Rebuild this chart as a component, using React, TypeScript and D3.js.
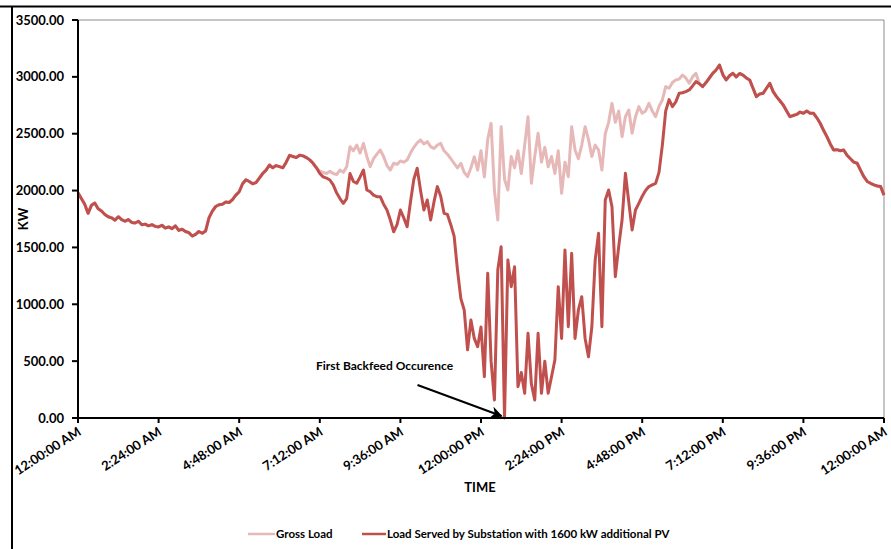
import React from 'react';
import * as d3 from 'd3';

const W = 891;
const H = 549;

const STEP_MIN = 6; // minutes between samples
const xTickLabels = [
  '12:00:00 AM', '2:24:00 AM', '4:48:00 AM', '7:12:00 AM', '9:36:00 AM', '12:00:00 PM',
  '2:24:00 PM', '4:48:00 PM', '7:12:00 PM', '9:36:00 PM', '12:00:00 AM',
];
const yTicks = [0, 500, 1000, 1500, 2000, 2500, 3000, 3500];
const seriesNames = ['Gross Load', 'Load Served by Substation with 1600 kW additional PV'];

const grossLoad = [
  1980, 1930, 1880, 1800, 1870, 1890, 1840, 1820, 1790, 1770,
  1760, 1740, 1770, 1745, 1730, 1745, 1720, 1715, 1730, 1700,
  1705, 1690, 1700, 1685, 1680, 1695, 1670, 1680, 1665, 1690,
  1650, 1660, 1640, 1630, 1600, 1615, 1640, 1625, 1645, 1760,
  1820, 1860, 1875, 1880, 1900, 1895, 1920, 1960, 1990, 2060,
  2095, 2080, 2060, 2070, 2110, 2150, 2180, 2225, 2200, 2220,
  2210, 2200, 2250, 2310, 2300, 2290, 2310, 2305, 2290, 2270,
  2240, 2200,
  2170, 2160, 2150, 2170, 2150, 2140, 2180, 2160,
  2210, 2386, 2350, 2400, 2330, 2415, 2300, 2210, 2280, 2320,
  2357, 2300, 2220, 2181, 2240, 2230, 2260, 2250, 2269, 2330,
  2380, 2420, 2445, 2410, 2430, 2386, 2370, 2400, 2415, 2350,
  2320, 2280, 2240, 2200, 2240, 2160, 2122, 2200, 2298, 2180,
  2350, 2120, 2450, 2591, 2000, 1741, 2562, 2100, 2005, 2300,
  2200, 2350, 2150, 2400, 2650, 2064, 2300, 2504, 2250, 2380,
  2210, 2300, 2150, 2350, 1976, 2250, 2122, 2562, 2357, 2280,
  2400, 2562, 2450, 2300, 2400, 2357, 2181, 2500, 2600, 2767,
  2600, 2700, 2474, 2650, 2709, 2504, 2650, 2738, 2680, 2700,
  2767, 2700, 2650, 2740, 2797, 2914, 2900, 2950, 2973, 2980,
  3016, 2990, 2944, 3000, 3031, 2940,
  2914, 2950, 2990, 3031,
  3060, 3104, 3020, 2973, 3010, 3031, 3000, 3030, 3016, 2990,
  2973, 2900, 2826, 2850, 2855, 2900, 2943, 2870, 2826, 2790,
  2753, 2700, 2650, 2660, 2670, 2690, 2680, 2700, 2680, 2680,
  2640, 2592, 2530, 2474, 2410, 2357, 2360, 2350, 2357, 2310,
  2280, 2250, 2240, 2180, 2122, 2080, 2064, 2050, 2040, 2035, 1960,
];

const servedLoad = [
  1980, 1930, 1880, 1800, 1870, 1890, 1840, 1820, 1790, 1770,
  1760, 1740, 1770, 1745, 1730, 1745, 1720, 1715, 1730, 1700,
  1705, 1690, 1700, 1685, 1680, 1695, 1670, 1680, 1665, 1690,
  1650, 1660, 1640, 1630, 1600, 1615, 1640, 1625, 1645, 1760,
  1820, 1860, 1875, 1880, 1900, 1895, 1920, 1960, 1990, 2060,
  2095, 2080, 2060, 2070, 2110, 2150, 2180, 2225, 2200, 2220,
  2210, 2200, 2250, 2310, 2300, 2290, 2310, 2305, 2290, 2270,
  2240, 2200,
  2150, 2120, 2110, 2093, 2050, 1980, 1930, 1888,
  1930, 2150, 2080, 2064, 2120, 2181, 2005, 1990, 1960, 1946,
  1946, 1880, 1829, 1741, 1638, 1700, 1829, 1760, 1682, 1900,
  2100, 2196, 2000, 1829, 1917, 1741, 1900, 2035, 1950, 1800,
  1790, 1700, 1600, 1300, 1050, 950, 600, 862, 700, 627,
  800, 363, 1272, 500, 158, 1301, 1506, 0, 1389, 1155,
  1330, 275, 400, 217, 745, 300, 158, 745, 217, 500,
  217, 363, 510, 1155, 700, 1477, 803, 1448, 700, 950,
  1067, 700, 539, 800, 1389, 1624, 803, 1917, 2005, 1858,
  1243, 1507, 1741, 2152, 1900, 1653, 1829, 1888, 1950, 2000,
  2035, 2050, 2064, 2160, 2400, 2700, 2800, 2738, 2780, 2855,
  2860, 2870, 2885, 2920, 2958, 2940, 2914, 2950, 2990, 3031,
  3060, 3104, 3020, 2973, 3010, 3031, 3000, 3030, 3016, 2990,
  2973, 2900, 2826, 2850, 2855, 2900, 2943, 2870, 2826, 2790,
  2753, 2700, 2650, 2660, 2670, 2690, 2680, 2700, 2680, 2680,
  2640, 2592, 2530, 2474, 2410, 2357, 2360, 2350, 2357, 2310,
  2280, 2250, 2240, 2180, 2122, 2080, 2064, 2050, 2040, 2035, 1960,
];

const annotationText = 'First Backfeed Occurence';
const backfeedMinute = 762; // ~12:42 PM

const FONT = 'Lato, "Open Sans", sans-serif';
const PINK = '#E6B9B8';
const RED = '#C0504D';

export default function App() {
  const left = 78, right = 884, top = 20, bottom = 418;
  const x = d3.scaleLinear().domain([0, 1440]).range([left, right]);
  const y = d3.scaleLinear().domain([0, 3500]).range([bottom, top]);
  const line = d3
    .line<number>()
    .x((_, i) => x(i * STEP_MIN))
    .y((d) => y(d));

  const xTicks = xTickLabels.map((lab, i) => ({ lab, m: i * 144 }));

  const arrowEnd = { x: x(backfeedMinute) - 3, y: y(0) - 2 };
  const arrowStart = { x: x(backfeedMinute) - 87, y: y(0) - 33 };

  return (
    <div style={{ position: 'fixed', left: 0, top: 0 }}>
      <svg width={W} height={H} style={{ display: 'block', background: '#fff' }} fontFamily={FONT}>
        <defs>
          <marker id="arr" viewBox="0 0 10 10" refX="9" refY="5" markerWidth="6" markerHeight="6" orient="auto">
            <path d="M0,0 L10,5 L0,10 L3,5 Z" fill="#000" />
          </marker>
        </defs>
        {/* outer frame */}
        <line x1={0} x2={W} y1={6.5} y2={6.5} stroke="#000" strokeWidth={2} />
        <line x1={12} x2={12} y1={6} y2={H} stroke="#000" strokeWidth={2} />

        {/* plot border */}
        <line x1={left} x2={right} y1={top} y2={top} stroke="#8c8c8c" strokeWidth={1} />
        <line x1={right} x2={right} y1={top} y2={bottom} stroke="#8c8c8c" strokeWidth={1} />

        {/* series */}
        <path d={line(grossLoad) || ''} fill="none" stroke={PINK} strokeWidth={3} strokeLinejoin="round" />
        <path d={line(servedLoad) || ''} fill="none" stroke={RED} strokeWidth={3} strokeLinejoin="round" />

        {/* y axis */}
        <line x1={left} x2={left} y1={top} y2={bottom} stroke="#000" strokeWidth={2} />
        {yTicks.map((t) => (
          <g key={t}>
            <line x1={left - 6} x2={left} y1={y(t)} y2={y(t)} stroke="#000" strokeWidth={2} />
            <text x={left - 14} y={y(t)} dy="0.35em" textAnchor="end" fontSize={13} fontWeight={700}>
              {d3.format('.2f')(t)}
            </text>
          </g>
        ))}
        <text transform={`translate(23,${(top + bottom) / 2}) rotate(-90)`} textAnchor="middle" fontSize={13} fontWeight={700} dy="0.35em">
          KW
        </text>

        {/* x axis */}
        <line x1={left} x2={right} y1={bottom} y2={bottom} stroke="#000" strokeWidth={2} />
        {xTicks.map((t, i) => (
          <g key={i}>
            <line x1={x(t.m)} x2={x(t.m)} y1={bottom} y2={bottom + 5} stroke="#000" strokeWidth={2} />
            <text
              transform={`translate(${x(t.m) + 4},${bottom + 16}) rotate(-33)`}
              textAnchor="end"
              fontSize={13}
              fontWeight={700}
            >
              {t.lab}
            </text>
          </g>
        ))}
        <text x={480} y={492} textAnchor="middle" fontSize={13} fontWeight={700}>TIME</text>

        {/* annotation */}
        <text x={316} y={370} fontSize={12} fontWeight={700}>{annotationText}</text>
        <line x1={arrowStart.x} y1={arrowStart.y} x2={arrowEnd.x} y2={arrowEnd.y} stroke="#000" strokeWidth={2} markerEnd="url(#arr)" />

        {/* legend */}
        <line x1={248} x2={275} y1={534} y2={534} stroke={PINK} strokeWidth={2.5} />
        <text x={276} y={534} dy="0.35em" fontSize={11.5} fontWeight={700}>{seriesNames[0]}</text>
        <line x1={362} x2={386} y1={534} y2={534} stroke={RED} strokeWidth={2.5} />
        <text x={387} y={534} dy="0.35em" fontSize={11.5} fontWeight={700}>{seriesNames[1]}</text>
      </svg>
    </div>
  );
}
